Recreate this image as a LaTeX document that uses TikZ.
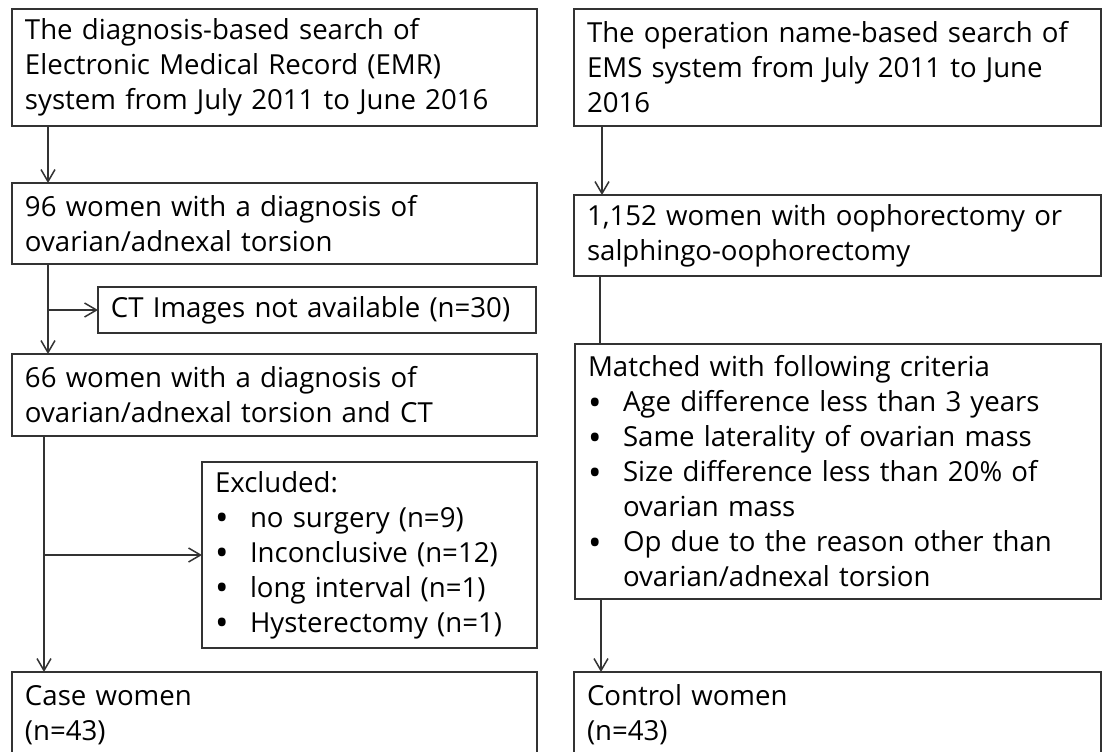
\documentclass[tikz,border=0pt]{standalone}
\usepackage{fontspec}
\setmainfont{Open Sans}
\usetikzlibrary{arrows.meta}

\newcommand{\bul}{\makebox[17.5pt][l]{\raisebox{-0.12em}{\scalebox{1.3}{\textbullet}}}}
\newcommand{\ind}{\hspace*{17.5pt}}

\begin{document}
\begin{tikzpicture}[x=0.5pt,y=-0.5pt,>={Straight Barb[length=6pt,width=7pt]},line width=0.75pt,
    every node/.style={shape=rectangle,draw=black!80,anchor=north west,align=left,
      inner xsep=6.5pt,inner ysep=0pt,outer sep=0pt,
      font=\fontsize{13.8pt}{17.5pt}\selectfont},
    wide/.style={text width=249.5pt},
    wider/.style={text width=250.5pt}]
    \useasboundingbox (0,0) rectangle (1105,751);
    % left column
    \node (emr)[wide, minimum height=58.5pt] at (12,9) {The diagnosis-based search of\\Electronic Medical Record (EMR)\\system from July 2011 to June 2016};
    \node (diag)[wide, minimum height=40.5pt] at (12,183) {96 women with a diagnosis of\\ovarian/adnexal torsion};
    \node (noct)[text width=206pt, minimum height=23pt] at (98,287) {CT Images not available (n=30)};
    \node (withct)[wide, minimum height=41pt] at (12,354) {66 women with a diagnosis of\\ovarian/adnexal torsion and CT};
    \node (excl)[text width=154.5pt, minimum height=93pt] at (202,462) {Excluded:\\\bul no surgery (n=9)\\\bul Inconclusive (n=12)\\\bul long interval (n=1)\\\bul Hysterectomy (n=1)};
    \node (case)[wide, minimum height=43pt] at (12,672) {Case women\\(n=43)};
    % right column
    \node (ems)[wider, minimum height=58.5pt] at (574,9) {The operation name-based search of\\EMS system from July 2011 to June\\2016};
    \node (ooph)[wider, minimum height=40.5pt] at (574,195) {1,152 women with oophorectomy or\\salphingo-oophorectomy};
    \node (match)[text width=250pt, minimum height=127.5pt] at (575,344) {Matched with following criteria\\\bul Age difference less than 3 years\\\bul Same laterality of ovarian mass\\\bul Size difference less than 20\% of\\\ind ovarian mass\\\bul Op due to the reason other than\\\ind ovarian/adnexal torsion};
    \node (control)[wider, minimum height=43pt] at (574,672) {Control women\\(n=43)};
    % connect the nodes
    \draw[->, black!80] ([xshift=18pt]emr.south west) -- ([xshift=18pt]diag.north west);
    \draw[->, black!80] ([xshift=18pt]diag.south west) -- ([xshift=18pt]withct.north west);
    \draw[->, black!80] ([xshift=18pt]diag.south west |- noct.west) -- (noct.west);
    \draw[->, black!80] ([xshift=16pt]withct.south west) -- ([xshift=16pt]case.north west);
    \draw[->, black!80] ([xshift=16pt]withct.south west |- excl.west) -- (excl.west);
    \draw[->, black!80] ([xshift=14pt]ems.south west) -- ([xshift=14pt]ooph.north west);
    \draw[black!80] ([xshift=13pt]ooph.south west) -- ([xshift=13pt]ooph.south west |- match.north);
    \draw[->, black!80] ([xshift=13pt]match.south west) -- ([xshift=13pt]match.south west |- control.north);
\end{tikzpicture}
\end{document}
